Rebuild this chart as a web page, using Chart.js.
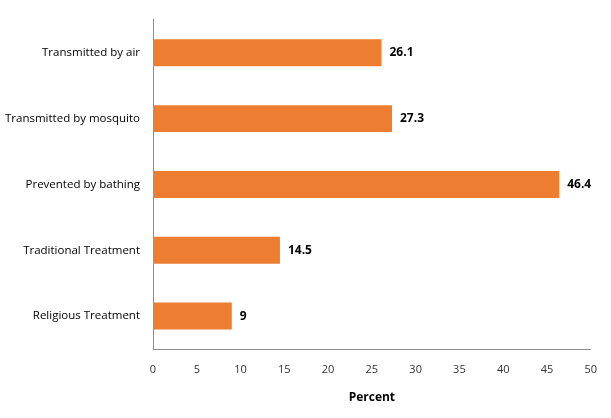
<!DOCTYPE html>
<html lang="en">
<head>
    <meta charset="UTF-8">
    <title>Percent</title>
    <script src="https://cdn.jsdelivr.net/npm/chart.js"></script>
    <style>
        body { margin: 0; background: #fff; }
        #wrap { width: 611px; height: 418px; }
    </style>
</head>
<body>
    <div id="wrap">
        <canvas id="barChart" width="611" height="418"></canvas>
    </div>

    <script>
        // Chart data
        const categories = [
            'Transmitted by air',
            'Transmitted by mosquito',
            'Prevented by bathing',
            'Traditional Treatment',
            'Religious Treatment'
        ];
        const percents = [26.1, 27.3, 46.4, 14.5, 9];
        const axisTitle = 'Percent';

        const barColor = '#ED7D31';
        const fontFamily = '"Open Sans", "DejaVu Sans", sans-serif';

        // Draws the value at the end of each bar
        const valueLabels = {
            id: 'valueLabels',
            afterDatasetsDraw(chart) {
                const ctx = chart.ctx;
                const meta = chart.getDatasetMeta(0);
                ctx.save();
                ctx.font = 'bold 12px ' + fontFamily;
                ctx.fillStyle = '#000';
                ctx.textAlign = 'left';
                ctx.textBaseline = 'middle';
                meta.data.forEach((bar, i) => {
                    ctx.fillText(String(percents[i]), bar.x + 8, bar.y);
                });
                ctx.restore();
            }
        };

        const ctx = document.getElementById('barChart').getContext('2d');
        new Chart(ctx, {
            type: 'bar',
            data: {
                labels: categories,
                datasets: [{
                    data: percents,
                    backgroundColor: barColor,
                    borderWidth: 0,
                    barPercentage: 0.41,
                    categoryPercentage: 1
                }]
            },
            options: {
                indexAxis: 'y',
                responsive: false,
                animation: false,
                layout: { padding: { top: 16, right: 19, bottom: 0, left: 0 } },
                plugins: {
                    legend: { display: false },
                    tooltip: { enabled: false }
                },
                scales: {
                    x: {
                        min: 0,
                        max: 50,
                        grid: { display: false, drawTicks: false },
                        border: { display: true, color: '#8c8c8c', width: 1 },
                        ticks: {
                            stepSize: 5,
                            color: '#333',
                            padding: 14,
                            maxRotation: 0,
                            font: { family: fontFamily, size: 11 }
                        },
                        title: {
                            display: true,
                            text: axisTitle,
                            color: '#000',
                            font: { family: fontFamily, size: 12, weight: 'bold' },
                            padding: { top: 4, bottom: 13 }
                        },
                        afterFit(scale) { scale.height = 69; }
                    },
                    y: {
                        grid: { display: false, drawTicks: false },
                        border: { display: true, color: '#8c8c8c', width: 1 },
                        ticks: {
                            color: '#000',
                            padding: 13,
                            font: { family: fontFamily, size: 11.5 }
                        },
                        afterFit(scale) { scale.width = 153; }
                    }
                }
            },
            plugins: [valueLabels]
        });
    </script>
</body>
</html>
